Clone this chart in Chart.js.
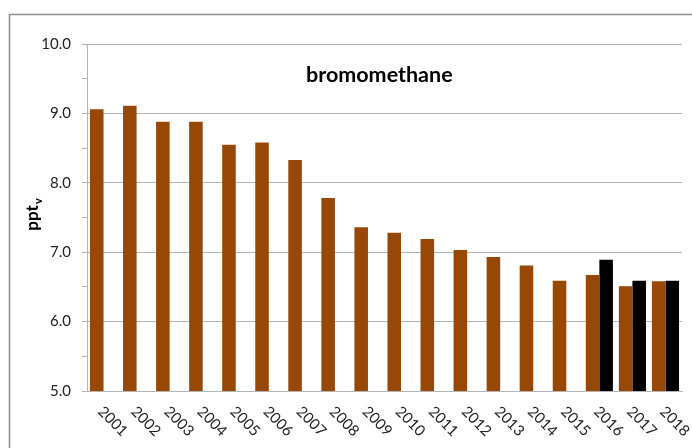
<!DOCTYPE html>
<html>
<head>
<meta charset="utf-8">
<script src="https://cdn.jsdelivr.net/npm/chart.js@4"></script>
<style>
  html, body { margin: 0; padding: 0; background: #fff; }
  #wrap { width: 692px; height: 448px; position: relative; }
</style>
</head>
<body>
<div id="wrap"><canvas id="chart" width="692" height="448"></canvas></div>
<script>
const years = ['2001','2002','2003','2004','2005','2006','2007','2008','2009',
               '2010','2011','2012','2013','2014','2015','2016','2017','2018'];
const seriesA = [9.06, 9.11, 8.88, 8.88, 8.55, 8.58, 8.33, 7.78, 7.36,
                 7.28, 7.19, 7.03, 6.93, 6.81, 6.59, 6.67, 6.51, 6.58];
const seriesB = [null, null, null, null, null, null, null, null, null,
                 null, null, null, null, null, null, 6.89, 6.59, 6.59];
const yTicks = [5.0, 6.0, 7.0, 8.0, 9.0, 10.0];
const chartTitle = 'bromomethane';

const gridGray = '#b4b4b4';
const fontFam = 'Lato, "Liberation Sans", sans-serif';

// frame, title, y label and rotated year labels
const extras = {
    id: 'extras',
    beforeDraw(chart) {
        const c = chart.ctx;
        c.save();
        c.strokeStyle = '#8c8c8c';
        c.lineWidth = 1.5;
        c.strokeRect(9.5, 14.5, 800, 600);
        c.restore();
    },
    afterDraw(chart) {
        const c = chart.ctx;
        const area = chart.chartArea;
        const x = chart.scales.x;
        c.save();
        c.fillStyle = '#000';
        c.font = 'bold 21.5px ' + fontFam;
        c.textAlign = 'left';
        c.textBaseline = 'alphabetic';
        c.fillText(chartTitle, 306, 82);

        // y axis label: ppt with subscript v
        c.translate(33, 214);
        c.rotate(-Math.PI / 2);
        c.font = 'bold 17px ' + fontFam;
        c.textAlign = 'center';
        c.textBaseline = 'middle';
        c.fillText('ppt', -4, 0);
        c.font = 'bold 11px ' + fontFam;
        c.fillText('v', 13, 5);
        c.restore();

        c.save();
        c.fillStyle = '#222';
        c.font = '15px ' + fontFam;
        c.textAlign = 'left';
        c.textBaseline = 'middle';
        years.forEach((y, i) => {
            const px = x.getPixelForTick(i);
            c.save();
            c.translate(px - 3, area.bottom + 18);
            c.rotate(Math.PI / 4);
            c.fillText(y, 0, 0);
            c.restore();
        });
        c.restore();
    }
};

const ctx = document.getElementById('chart').getContext('2d');

new Chart(ctx, {
    type: 'bar',
    data: {
        labels: years,
        datasets: [{
            label: 'A',
            data: seriesA,
            backgroundColor: '#974706'
        }, {
            label: 'B',
            data: seriesB,
            backgroundColor: '#000000'
        }]
    },
    options: {
        responsive: false,
        animation: false,
        layout: { padding: { top: 44, right: 10, left: 0, bottom: 0 } },
        plugins: {
            legend: { display: false },
            tooltip: { enabled: false }
        },
        datasets: {
            bar: { categoryPercentage: 0.82, barPercentage: 1.0 }
        },
        scales: {
            x: {
                grid: { color: 'transparent', drawTicks: false },
                border: { color: gridGray, width: 1 },
                ticks: { display: false },
                afterFit(s) { s.height = 57; }
            },
            y: {
                min: yTicks[0],
                max: yTicks[yTicks.length - 1],
                afterFit(s) { s.width = 87; },
                border: { color: gridGray, width: 1 },
                grid: {
                    color: c => (yTicks.includes(c.tick.value) ? gridGray : 'transparent'),
                    tickColor: gridGray,
                    tickLength: 5
                },
                ticks: {
                    stepSize: 0.5,
                    padding: 11,
                    color: '#222',
                    font: { family: fontFam, size: 15 },
                    callback: v => (yTicks.includes(v) ? v.toFixed(1) : '')
                }
            }
        }
    },
    plugins: [extras]
});
</script>
</body>
</html>
